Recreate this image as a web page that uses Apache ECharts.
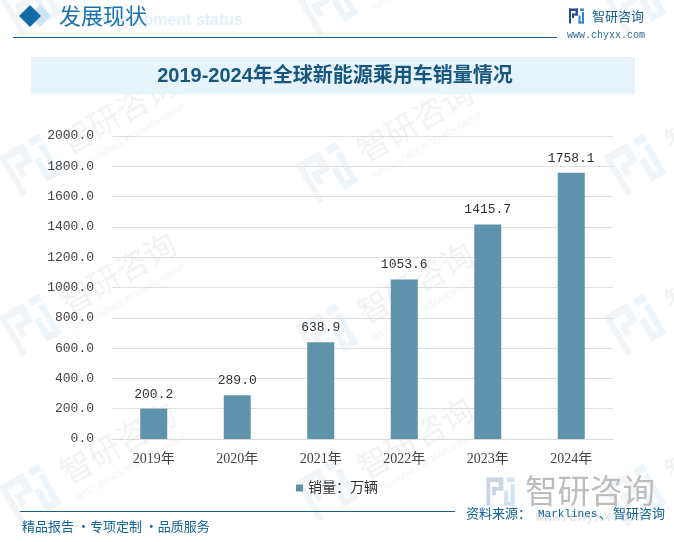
<!DOCTYPE html>
<html>
<head>
<meta charset="utf-8">
<title>2019-2024年全球新能源乘用车销量情况</title>
<script src="https://cdn.jsdelivr.net/npm/echarts@6/dist/echarts.min.js"></script>
<style>
html,body{margin:0;padding:0;background:#fff;}
#main{width:674px;height:542px;}
</style>
</head>
<body>
<div id="main"></div>
<script type="text/javascript">
var years = ['2019年', '2020年', '2021年', '2022年', '2023年', '2024年'];
var sales = [200.2, 289.0, 638.9, 1053.6, 1415.7, 1758.1];
var seriesName = '销量：万辆';
var chartTitle = '2019-2024年全球新能源乘用车销量情况';

var serif = '"Liberation Serif","Noto Sans CJK SC",serif';
var mono = '"Liberation Mono","Noto Sans CJK SC",monospace';
var cjk = '"Noto Sans CJK SC",sans-serif';
var blue = '#0f6498';

// logo blocks, 30 x 30 box
var logoDark = [[0,0,18,5],[13,0,5,14],[6,10,12,4],[6,10,4,9],[0,0,4,30]];
var logoLight = [[22,0,8,5],[26,7,4,23],[19,14,4,16],[19,26,11,4]];

function logo(x, y, size, rot, dark, light, z) {
    var k = size / 30, kids = [];
    logoDark.forEach(function (r) {
        kids.push({type: 'rect', shape: {x: r[0] * k - size / 2, y: r[1] * k - size / 2, width: r[2] * k, height: r[3] * k}, style: {fill: dark}, z: z});
    });
    logoLight.forEach(function (r) {
        kids.push({type: 'rect', shape: {x: r[0] * k - size / 2, y: r[1] * k - size / 2, width: r[2] * k, height: r[3] * k}, style: {fill: light}, z: z});
    });
    return {type: 'group', x: x, y: y, rotation: rot, children: kids};
}
function label(x, y, text, size, color, align, font, weight) {
    return {type: 'text', x: x, y: y, z: 20, style: {text: text, fontSize: size, fill: color, align: align || 'left', verticalAlign: 'middle', fontFamily: font || cjk, fontWeight: weight || 'normal'}};
}

var graphics = [];
// watermark tiles
var tiles = [[30,5],[327,5],[635,5],[30,165],[327,173],[635,165],[30,325],[327,335],[635,325],[30,495],[327,490],[635,495]];
tiles.forEach(function (t) {
    graphics.push(logo(t[0], t[1], 46, Math.PI / 6, '#f1f5f8', '#edf5fa', -5));
    graphics.push({type: 'text', x: t[0] + 88, y: t[1] - 52, rotation: Math.PI / 6, z: -5,
        style: {text: '智研咨询', fontSize: 32, fill: '#f2f3f4', align: 'center', verticalAlign: 'middle', fontFamily: cjk}});
    graphics.push({type: 'text', x: t[0] + 100, y: t[1] - 28, rotation: Math.PI / 6, z: -5,
        style: {text: 'INTELLIGENCE RESEARCH GROUP', fontSize: 8, fill: '#f2f3f4', align: 'center', verticalAlign: 'middle', fontFamily: cjk}});
});
// header
graphics.push({type: 'polygon', z: 10, shape: {points: [[40,5],[51,16],[40,27],[29,16]]}, style: {fill: '#cfe2ee'}});
graphics.push({type: 'polygon', z: 11, shape: {points: [[30,5],[41,16],[30,27],[19,16]]}, style: {fill: '#126ba6'}});
graphics.push(label(243, 21, 'Development status', 16, '#e3f1fb', 'right', '"Liberation Sans",sans-serif', 'bold'));
graphics.push(label(59, 16, '发展现状', 22, '#1a72ad', 'left', '"Noto Sans CJK SC",serif'));
graphics.push({type: 'line', z: 10, shape: {x1: 13, y1: 37.5, x2: 557, y2: 37.5}, style: {stroke: '#1a5f8f', lineWidth: 1}});
graphics.push(logo(576.5, 16, 15, 0, '#2b4a8c', '#2f86cf', 12));
graphics.push(label(592, 16, '智研咨询', 13, '#17608f'));
graphics.push(label(567, 35, 'www.chyxx.com', 10, '#2b6a94', 'left', mono));
// title band
graphics.push({type: 'rect', z: -1, shape: {x: 31, y: 57, width: 604, height: 37}, style: {fill: '#e6f3fb'}});
graphics.push(label(335, 76, chartTitle, 20, '#17567f', 'center', '"Liberation Sans","Noto Sans CJK SC",sans-serif', 'bold'));
// footer
graphics.push({type: 'line', z: 10, shape: {x1: 20, y1: 511.5, x2: 455, y2: 511.5}, style: {stroke: '#1a5f8f', lineWidth: 1}});
graphics.push(label(22, 526, '精品报告 ·专项定制 ·品质服务', 13, blue));
graphics.push(logo(500.5, 491.5, 28, 0, '#cdd5e4', '#cfe3f3', 3));
graphics.push(label(525, 491, '智研咨询', 32.5, '#bdbdbd'));
graphics.push(label(590, 517, 'www.chyxx.com', 14, '#e2e2e2', 'center', mono));
graphics.push(label(466, 513, '资料来源：', 13, blue));
graphics.push(label(538, 514, 'Marklines', 11, blue, 'left', mono));
graphics.push(label(599, 513, '、', 13, blue));
graphics.push(label(613, 513, '智研咨询', 13, blue));

var chart = echarts.init(document.getElementById('main'), null, {renderer: 'canvas'});
chart.setOption({
    animation: false,
    backgroundColor: '#fff',
    textStyle: {fontFamily: serif},
    grid: {left: 112, right: 61, top: 136, bottom: 103},
    legend: {
        data: [seriesName], bottom: 42, left: 'center',
        icon: 'rect', itemWidth: 7, itemHeight: 7, itemGap: 4,
        textStyle: {fontSize: 14, color: '#333', fontFamily: serif}
    },
    xAxis: {
        type: 'category', data: years,
        axisLine: {lineStyle: {color: '#d9d9d9'}},
        axisTick: {show: false},
        axisLabel: {fontSize: 14, color: '#444', margin: 13, fontFamily: serif}
    },
    yAxis: {
        type: 'value', min: 0, max: 2000, interval: 200,
        axisLine: {show: false}, axisTick: {show: false},
        splitLine: {lineStyle: {color: '#dedede'}},
        axisLabel: {fontSize: 13, color: '#444', margin: 18, fontFamily: mono, padding: [3, 0, 0, 0],
            formatter: function (v) { return v.toFixed(1); }}
    },
    series: [{
        name: seriesName, type: 'bar', data: sales, barWidth: 27, z: 5,
        itemStyle: {color: '#5f92ab'},
        label: {show: true, position: 'top', distance: 8, fontSize: 13, color: '#333', fontFamily: mono,
            formatter: function (p) { return p.value.toFixed(1); }}
    }],
    graphic: graphics
});
</script>
</body>
</html>
